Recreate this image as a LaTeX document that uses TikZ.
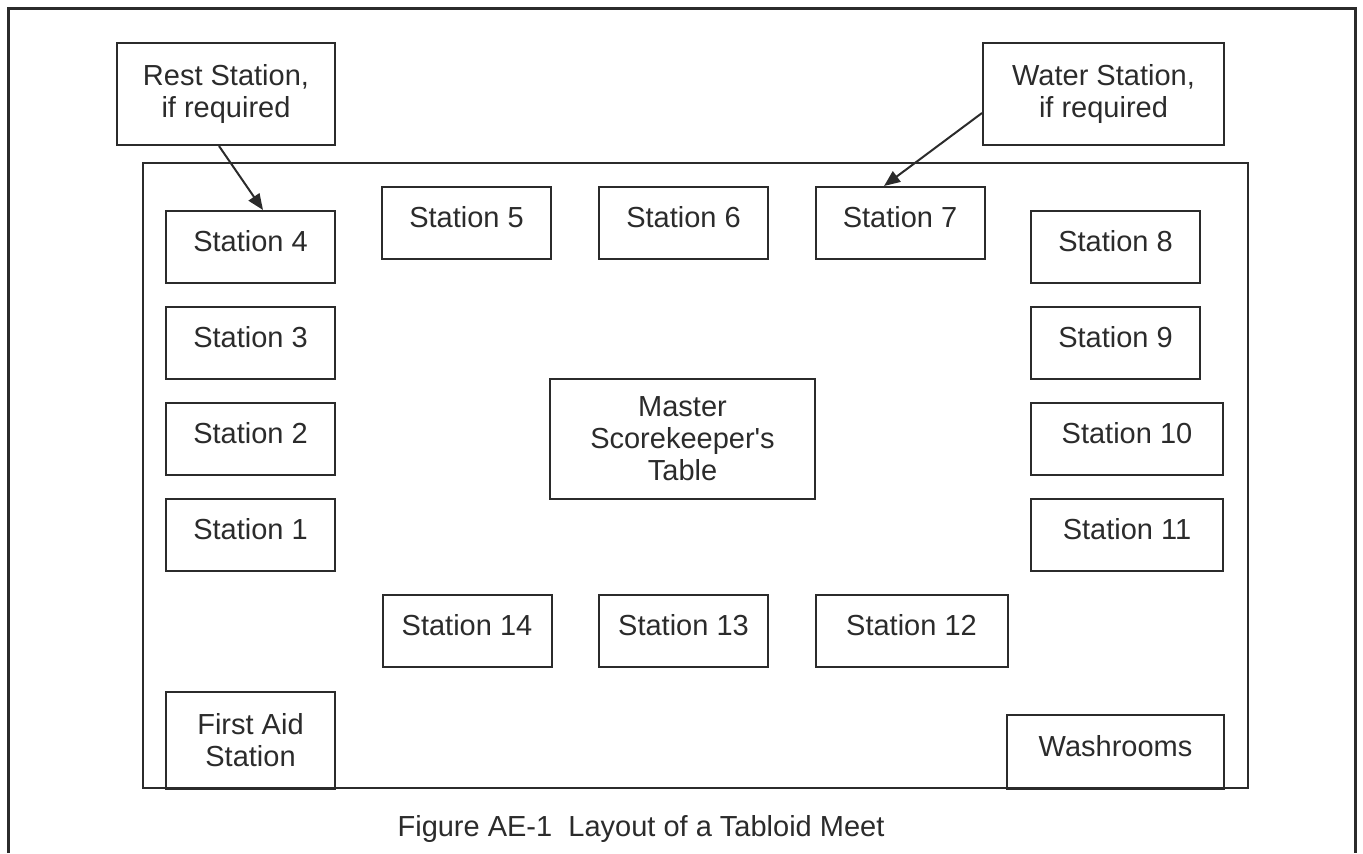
\documentclass[tikz,border=0pt]{standalone}
\usepackage{fontspec}
\setmainfont{Liberation Sans}
\usetikzlibrary{arrows,arrows.meta}
\definecolor{inkgray}{HTML}{2B2B2B}
\tikzset{
	station/.style={draw=inkgray, text=inkgray, line width=1pt, minimum width=84.5pt, minimum height=36pt,
		text height=10.5pt, text depth=6pt, inner sep=0pt},
	wide/.style={station, minimum width=96pt},
	label box/.style={draw=inkgray, text=inkgray, line width=1pt, align=center, inner sep=0pt},
	pointer/.style={draw=inkgray, line width=1pt, -{Triangle[length=8pt,width=6.5pt]}}
}
\begin{document}
\begin{tikzpicture}[x=0.5pt, y=-0.5pt, font=\fontsize{14.5}{16}\selectfont]
			\useasboundingbox (0,0) rectangle (1363,853);
			\draw[inkgray, line width=1.5pt] (8,853) -- (8,8) -- (1355,8) -- (1355,853);
			\draw[inkgray, line width=1pt] (143,163) rectangle (1248,788);
			
			\node[label box, minimum width=109pt, minimum height=51pt] (rest) at (226,94) {Rest Station,\\if required};
			\node[label box, minimum width=120.5pt, minimum height=51pt] (water) at (1103.5,94) {Water Station,\\if required};
			
			\node[station] (s4) at (250.5,247) {Station 4};
			\node[station] (s3) at (250.5,343) {Station 3};
			\node[station] (s2) at (250.5,439) {Station 2};
			\node[station] (s1) at (250.5,535) {Station 1};
			
			\node[station] (s5) at (466.5,223) {Station 5};
			\node[station] (s6) at (683.5,223) {Station 6};
			\node[station] (s7) at (900,223) {Station 7};
			
			\node[station] (s8) at (1115.5,247) {Station 8};
			\node[station] (s9) at (1115.5,343) {Station 9};
			\node[wide] (s10) at (1127,439) {Station 10};
			\node[wide] (s11) at (1127,535) {Station 11};
			
			\node[station] (s14) at (467,631) {Station 14};
			\node[station] (s13) at (683.5,631) {Station 13};
			\node[wide] (s12) at (911.5,631) {Station 12};
			
			\node[label box, minimum width=132.5pt, minimum height=60pt] (master) at (682.5,439) {Master\\Scorekeeper\textquotesingle s\\Table};
			\node[label box, minimum width=84.5pt, minimum height=48.5pt] (aid) at (250.5,740.5) {First Aid\\Station};
			\node[station, minimum width=108.5pt, minimum height=37pt] (wash) at (1115.5,752) {Washrooms};
			
			\draw[pointer] ([xshift=-3.5pt]rest.south) -- ([xshift=6.25pt]s4.north);
			\draw[pointer] ([yshift=-9.5pt]water.west) -- ([xshift=-8pt]s7.north);
			
			\node[text=inkgray] (caption) at (641,829) {Figure AE-1\ \ Layout of a Tabloid Meet};
\end{tikzpicture}
\end{document}
